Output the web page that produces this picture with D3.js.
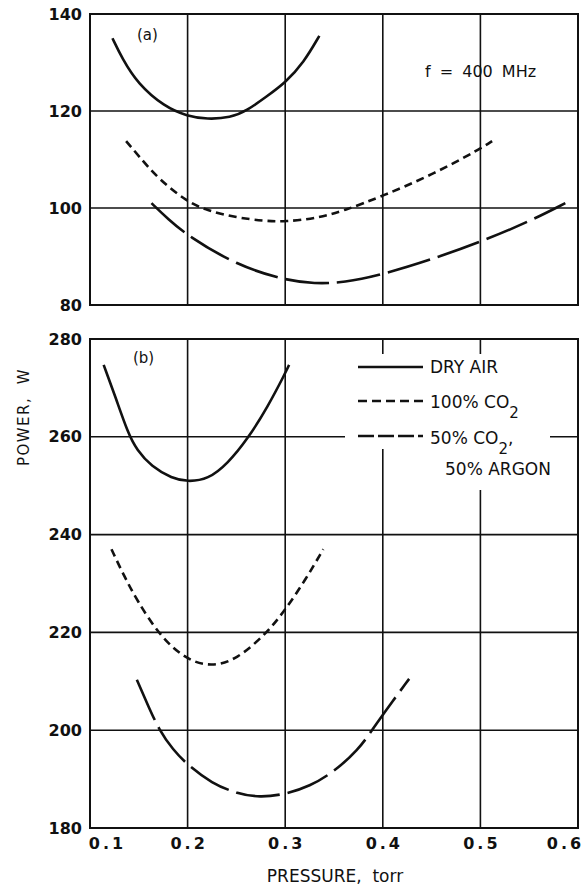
<!DOCTYPE html>
<html>
<head>
<meta charset="utf-8">
<script src="https://cdn.jsdelivr.net/npm/d3@7"></script>
<style>
  body { margin: 0; background: #fff; }
  svg { display: block; }
  text { font-family: "DejaVu Sans", sans-serif; fill: #111; }
</style>
</head>
<body>
<div id="app"></div>
<script>
const width = 584
const height = 886

// tick labels
const xTicks = [0.1, 0.2, 0.3, 0.4, 0.5, 0.6]
const yTicksA = [80, 100, 120, 140]
const yTicksB = [180, 200, 220, 240, 260, 280]

// panel (a), f = 400 MHz  -- [pressure torr, power W]
const dryAirA = [[0.123,135],[0.133,130.8],[0.149,125.6],[0.176,120.9],[0.2,118.9],[0.22,118.3],[0.244,118.6],[0.261,120.1],[0.281,123],[0.3,125.8],[0.319,130],[0.335,135.5]]
const co2A = [[0.137,113.8],[0.15,110.7],[0.17,106],[0.2,101.2],[0.22,99.5],[0.25,98],[0.28,97.3],[0.3,97.2],[0.33,97.8],[0.36,99.4],[0.4,102.5],[0.45,106.8],[0.5,112.2],[0.512,113.8]]
const mixA = [[0.163,101],[0.18,97.7],[0.2,94.3],[0.25,88.2],[0.3,85.1],[0.33,84.4],[0.36,84.6],[0.4,86.3],[0.45,89.4],[0.5,93],[0.55,97.2],[0.587,101]]

// panel (b)
const dryAirB = [[0.114,274.7],[0.126,268.2],[0.139,260.7],[0.148,257.3],[0.163,253.9],[0.184,251.5],[0.2,250.8],[0.221,251.3],[0.241,254.5],[0.262,259.7],[0.282,266.1],[0.3,273],[0.304,274.7]]
const co2B = [[0.122,237],[0.135,231.5],[0.148,226.6],[0.172,219.1],[0.2,214.2],[0.225,213],[0.25,214.4],[0.281,219.8],[0.3,224.6],[0.32,230.5],[0.339,237]]
const mixB = [[0.148,210.3],[0.16,204.8],[0.171,200],[0.185,196],[0.2,192.9],[0.225,189.1],[0.25,187.1],[0.274,186.2],[0.3,186.9],[0.325,188.5],[0.35,191.5],[0.375,196],[0.389,200],[0.4,203.2],[0.427,210.5]]

const gases = ["DRY AIR", "100% CO2", "50% CO2, 50% ARGON"]
const dashes = [null, "8,5", "44,8"]
const legendDashes = [null, "9,5", "16,4"]

const x = d3.scaleLinear([0.1, 0.6], [90, 578])
const yA = d3.scaleLinear([80, 140], [305, 14])
const yB = d3.scaleLinear([180, 280], [828, 339])

const svg = d3.select("#app").append("svg")
    .attr("width", width)
    .attr("height", height)

const panel = (y, yTicks) => {
    const g = svg.append("g")
    const [y0, y1] = y.range()
    // grid
    g.selectAll(".vg").data(xTicks.slice(1, -1)).join("line")
        .attr("x1", d => x(d)).attr("x2", d => x(d))
        .attr("y1", y1).attr("y2", y0)
        .attr("stroke", "#111").attr("stroke-width", 1.6)
    g.selectAll(".hg").data(yTicks.slice(1, -1)).join("line")
        .attr("x1", x(0.1)).attr("x2", x(0.6))
        .attr("y1", d => y(d)).attr("y2", d => y(d))
        .attr("stroke", "#111").attr("stroke-width", 1.6)
    g.append("rect")
        .attr("x", x(0.1)).attr("y", y1)
        .attr("width", x(0.6) - x(0.1)).attr("height", y0 - y1)
        .attr("fill", "none").attr("stroke", "#111").attr("stroke-width", 2)
    // y axis labels
    g.append("g")
        .attr("transform", `translate(${x(0.1)},0)`)
        .call(d3.axisLeft(y).tickValues(yTicks).tickSize(0).tickPadding(8).tickFormat(d3.format("d")))
        .call(g => g.select(".domain").remove())
        .call(g => g.selectAll("text")
            .attr("font-size", 16).attr("font-weight", "bold")
            .attr("font-family", "Liberation Sans").attr("fill", "#111"))
    return g
}

const line = y => d3.line()
    .x(d => x(d[0]))
    .y(d => y(d[1]))
    .curve(d3.curveBasis)

const drawCurves = (g, y, data) => {
    data.forEach((d, i) => {
        g.append("path")
            .attr("d", line(y)(d))
            .attr("fill", "none")
            .attr("stroke", "#111")
            .attr("stroke-width", 2.6)
            .attr("stroke-dasharray", dashes[i])
    })
}

const gA = panel(yA, yTicksA)
drawCurves(gA, yA, [dryAirA, co2A, mixA])
gA.append("text").attr("x", 137).attr("y", 40).attr("font-size", 15).text("(a)")
gA.append("text").attr("x", 425).attr("y", 77).attr("font-size", 16)
    .attr("word-spacing", 4)
    .text("f = 400 MHz")

const gB = panel(yB, yTicksB)
// legend box blanks out the grid
gB.append("rect").attr("x", 345).attr("y", 354).attr("width", 205).attr("height", 95).attr("fill", "#fff")
gB.append("rect").attr("x", 425).attr("y", 440).attr("width", 125).attr("height", 50).attr("fill", "#fff")
drawCurves(gB, yB, [dryAirB, co2B, mixB])
gB.append("text").attr("x", 133).attr("y", 363).attr("font-size", 15).text("(b)")

const legendY = [367, 401, 436]
const leg = gB.append("g").attr("font-size", 17)
gases.forEach((name, i) => {
    leg.append("line")
        .attr("x1", 358).attr("x2", 423)
        .attr("y1", legendY[i]).attr("y2", legendY[i])
        .attr("stroke", "#111").attr("stroke-width", 2.6)
        .attr("stroke-dasharray", legendDashes[i])
})
leg.append("text").attr("x", 430).attr("y", legendY[0] + 6).text(gases[0])
const t1 = leg.append("text").attr("x", 430).attr("y", legendY[1] + 7)
t1.append("tspan").text("100% CO")
t1.append("tspan").attr("dy", 10).attr("font-size", 15).text("2")
const t2 = leg.append("text").attr("x", 430).attr("y", legendY[2] + 8)
t2.append("tspan").text("50% CO")
t2.append("tspan").attr("dy", 10).attr("font-size", 15).text("2")
t2.append("tspan").attr("dy", -10).text(",")
leg.append("text").attr("x", 445).attr("y", 475).text("50% ARGON")

// x axis
svg.append("g")
    .attr("transform", `translate(0,${yB.range()[0]})`)
    .call(d3.axisBottom(x).tickValues(xTicks).tickSize(0).tickPadding(10).tickFormat(d3.format(".1f")))
    .call(g => g.select(".domain").remove())
    .call(g => g.selectAll("text")
        .attr("font-size", 16).attr("font-weight", "bold")
        .attr("font-family", "Liberation Sans").attr("fill", "#111")
        .attr("letter-spacing", 3)
        .attr("dx", (d, i) => i === 0 ? 17 : i === xTicks.length - 1 ? -13 : 1))

svg.append("text")
    .attr("x", 335).attr("y", 882)
    .attr("text-anchor", "middle")
    .attr("font-family", "Liberation Sans")
    .attr("font-size", 17)
    .style("white-space", "pre")
    .text("PRESSURE,  torr")

svg.append("text")
    .attr("transform", "translate(29,417) rotate(-90)")
    .attr("text-anchor", "middle")
    .attr("font-family", "Liberation Sans")
    .attr("font-size", 15)
    .attr("letter-spacing", 1.5)
    .style("white-space", "pre")
    .text("POWER,  W")
</script>
</body>
</html>
